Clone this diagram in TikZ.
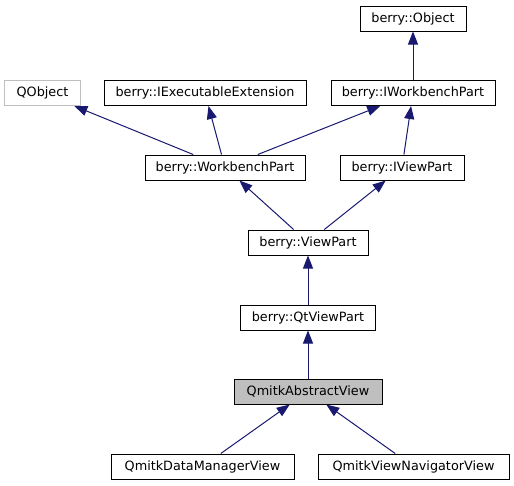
\documentclass[tikz,border=0pt]{standalone}
\usepackage{fontspec}
\setmainfont{DejaVu Sans}
\usetikzlibrary{arrows.meta}
\definecolor{midblue}{RGB}{25,25,112}
\definecolor{grey75}{RGB}{191,191,191}
\tikzset{
    cls/.style={
    draw=black,
    fill=white,
    line width=1pt,
    minimum height=25pt,
    inner sep=0pt,
    font=\fontsize{12.8}{15}\selectfont,
    },
    current/.style={cls, fill=grey75},
    extcls/.style={cls, draw=grey75},
    inherit/.style={draw=midblue, line width=1pt, -{Triangle[length=13pt,width=10pt]}},
}
\begin{document}
\begin{tikzpicture}[x=1pt,y=-1pt]
\useasboundingbox (0,0) rectangle (514,485);
\node[cls, minimum width=106] (object) at (413,18.5) {berry::Object};
\node[extcls, minimum width=76] (qobject) at (42.5,93) {QObject};
\node[cls, minimum width=202] (iexec) at (205,93) {berry::IExecutableExtension};
\node[cls, minimum width=164] (iworkbenchpart) at (413,93) {berry::IWorkbenchPart};
\node[cls, minimum width=160] (workbenchpart) at (225,167.5) {berry::WorkbenchPart};
\node[cls, minimum width=124] (iviewpart) at (402,167.5) {berry::IViewPart};
\node[cls, minimum width=120] (viewpart) at (308,242.5) {berry::ViewPart};
\node[cls, minimum width=135] (qtviewpart) at (308,317.5) {berry::QtViewPart};
\node[current, minimum width=148] (abstractview) at (308,391.5) {QmitkAbstractView};
\node[cls, minimum width=183] (datamanager) at (202.5,466.5) {QmitkDataManagerView};
\node[cls, minimum width=191] (navigator) at (413.5,466.5) {QmitkViewNavigatorView};
% inheritance, arrow at the base class
\draw[inherit] (iworkbenchpart) -- (object);
\draw[inherit] (workbenchpart) -- (qobject);
\draw[inherit] (workbenchpart) -- (iexec);
\draw[inherit] (workbenchpart) -- (iworkbenchpart);
\draw[inherit] (iviewpart) -- (iworkbenchpart);
\draw[inherit] (viewpart) -- (workbenchpart);
\draw[inherit] (viewpart) -- (iviewpart);
\draw[inherit] (qtviewpart) -- (viewpart);
\draw[inherit] (abstractview) -- (qtviewpart);
\draw[inherit] (datamanager) -- (abstractview);
\draw[inherit] (navigator) -- (abstractview);
\end{tikzpicture}
\end{document}
